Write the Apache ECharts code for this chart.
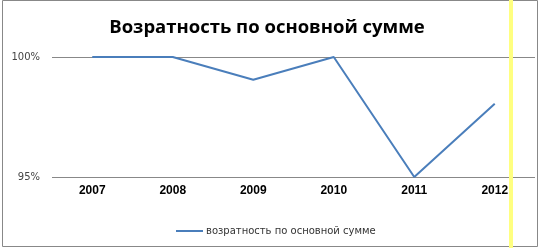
<!DOCTYPE html>
<html><head><meta charset="utf-8">
<script src="https://cdn.jsdelivr.net/npm/echarts@6/dist/echarts.min.js"></script>
<style>html,body{margin:0;padding:0;background:#fff}#c{width:550px;height:248px}</style>
</head><body><div id="c"></div>
<script>
const categories = ['2007','2008','2009','2010','2011','2012'];
const values = [100, 100, 99.05, 100, 95, 98.05];
const seriesName = 'возратность по основной сумме';
const titleText = 'Возратность по основной сумме';
const yMin = 95, yMax = 100, yInterval = 5;

const chart = echarts.init(document.getElementById('c'), null, {renderer:'canvas'});
chart.setOption({
  animation:false,
  backgroundColor:'#fff',
  title:{text:titleText,left:262,top:13,textAlign:'center',
    textStyle:{fontFamily:'Open Sans',fontWeight:'bold',fontSize:18.5,color:'#000'}},
  grid:{left:52,right:15,top:57,bottom:71},
  legend:{data:[seriesName],left:171,top:221,itemWidth:27,itemHeight:2,itemGap:3,
    icon:'rect',
    textStyle:{fontFamily:'DejaVu Sans',fontSize:10,color:'#333',padding:[0,0,0,-2]}},
  xAxis:{type:'category',data:categories,boundaryGap:true,
    axisLine:{show:false},axisTick:{show:false},
    axisLabel:{fontFamily:'Liberation Sans',fontWeight:'bold',fontSize:12,color:'#000',margin:8}},
  yAxis:{type:'value',min:yMin,max:yMax,interval:yInterval,
    axisLine:{show:false},axisTick:{show:false},
    splitLine:{lineStyle:{color:'#888',width:1}},
    axisLabel:{formatter:'{value}%',fontFamily:'DejaVu Sans',fontSize:10,color:'#444',margin:12}},
  series:[{name:seriesName,type:'line',data:values,symbol:'none',
    lineStyle:{color:'#4a7ebb',width:2},itemStyle:{color:'#4a7ebb'}}],
  graphic:[
    {type:'rect',shape:{x:2.5,y:0.5,width:535,height:246},style:{fill:null,stroke:'#888',lineWidth:1},z:-1},
    {type:'rect',shape:{x:509,y:0,width:4,height:248},style:{fill:'#ffff80'},z:10}
  ]
});
</script></body></html>
